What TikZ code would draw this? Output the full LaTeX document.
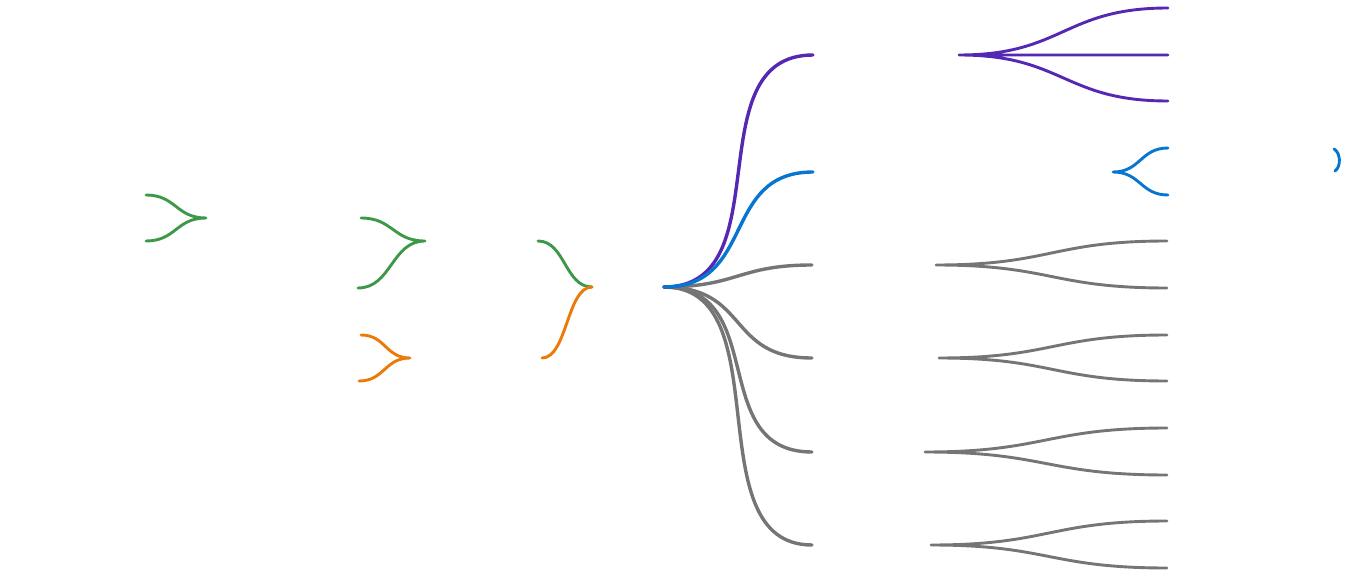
\documentclass[tikz,border=0pt]{standalone}
\usetikzlibrary{calc}

\definecolor{mgreen}{RGB}{62,152,74}
\definecolor{morange}{RGB}{236,122,8}
\definecolor{mpurple}{RGB}{84,40,178}
\definecolor{mblue}{RGB}{8,118,208}
\definecolor{mgray}{RGB}{117,117,117}

\begin{document}
\begin{tikzpicture}[
  x=1pt, y=-1pt,
  bend/.store in=\bendfac, bend=0.5,
  branch/.style={line width=2.9pt, line cap=round,
    to path={let \p1=(\tikztostart), \p2=(\tikztotarget) in
      .. controls ({\x1+\bendfac*(\x2-\x1)},\y1) and ({\x2-\bendfac*(\x2-\x1)},\y2) .. (\tikztotarget)}},
  trunk/.style={branch, line width=3.4pt}
]
  \useasboundingbox (0,0) rectangle (1349,577);

  % left side
  \coordinate (L1)  at (206,218);
  \coordinate (L1a) at (146,195);
  \coordinate (L1b) at (146,241);
  \coordinate (L2)  at (425,241);
  \coordinate (L2a) at (361,218);
  \coordinate (L2b) at (358,288);
  \coordinate (L3)  at (410,358);
  \coordinate (L3a) at (361,335);
  \coordinate (L3b) at (359,381);
  \coordinate (L0)  at (592,287);
  \coordinate (L0a) at (538,241);
  \coordinate (L0b) at (542,358);

  % root and right side
  \coordinate (root) at (664,287);
  \coordinate (R1) at (813,55);
  \coordinate (R2) at (813,172);
  \coordinate (R3) at (812,265);
  \coordinate (R4) at (812,358);
  \coordinate (R5) at (812,452);
  \coordinate (R6) at (812,545);

  \coordinate (S1)  at (959,55);
  \coordinate (S1a) at (1168,8);
  \coordinate (S1b) at (1168,55);
  \coordinate (S1c) at (1168,101);
  \coordinate (S2)  at (1113,172);
  \coordinate (S2a) at (1168,148);
  \coordinate (S2b) at (1168,195);
  \coordinate (S3)  at (936,265);
  \coordinate (S3a) at (1167,241);
  \coordinate (S3b) at (1167,288);
  \coordinate (S4)  at (939,358);
  \coordinate (S4a) at (1167,335);
  \coordinate (S4b) at (1167,381);
  \coordinate (S5)  at (925,452);
  \coordinate (S5a) at (1167,428);
  \coordinate (S5b) at (1167,475);
  \coordinate (S6)  at (931,545);
  \coordinate (S6a) at (1167,521);
  \coordinate (S6b) at (1167,568);
  \coordinate (B2a) at (1334,149);
  \coordinate (B2b) at (1335,171);

  \draw[branch, mgreen] (L1) to (L1a) (L1) to (L1b);
  \draw[branch, mgreen] (L2) to (L2a) (L2) to (L2b);
  \draw[branch, morange] (L3) to (L3a) (L3) to (L3b);
  \draw[branch, mgreen] (L0) to (L0a);
  \draw[branch, morange] (L0) to (L0b);

  \draw[trunk, mgray] (root) to (R3);
  \draw[trunk, mgray, bend=0.58] (root) to (R4);
  \draw[trunk, mgray, bend=0.72] (root) to (R5);
  \draw[trunk, mgray, bend=0.8] (root) to (R6);
  \draw[trunk, mpurple, bend=0.8] (root) to (R1);
  \draw[trunk, mblue, bend=0.62] (root) to (R2);

  \draw[branch, mpurple] (S1) to (S1a) (S1) to (S1b) (S1) to (S1c);
  \draw[branch, mblue] (S2) to (S2a) (S2) to (S2b);
  \draw[branch, mgray] (S3) to (S3a) (S3) to (S3b);
  \draw[branch, mgray] (S4) to (S4a) (S4) to (S4b);
  \draw[branch, mgray] (S5) to (S5a) (S5) to (S5b);
  \draw[branch, mgray] (S6) to (S6a) (S6) to (S6b);
  \draw[mblue, line width=2.9pt, line cap=round]
    (B2a) .. controls (1341,153) and (1341,167) .. (B2b);
\end{tikzpicture}
\end{document}
